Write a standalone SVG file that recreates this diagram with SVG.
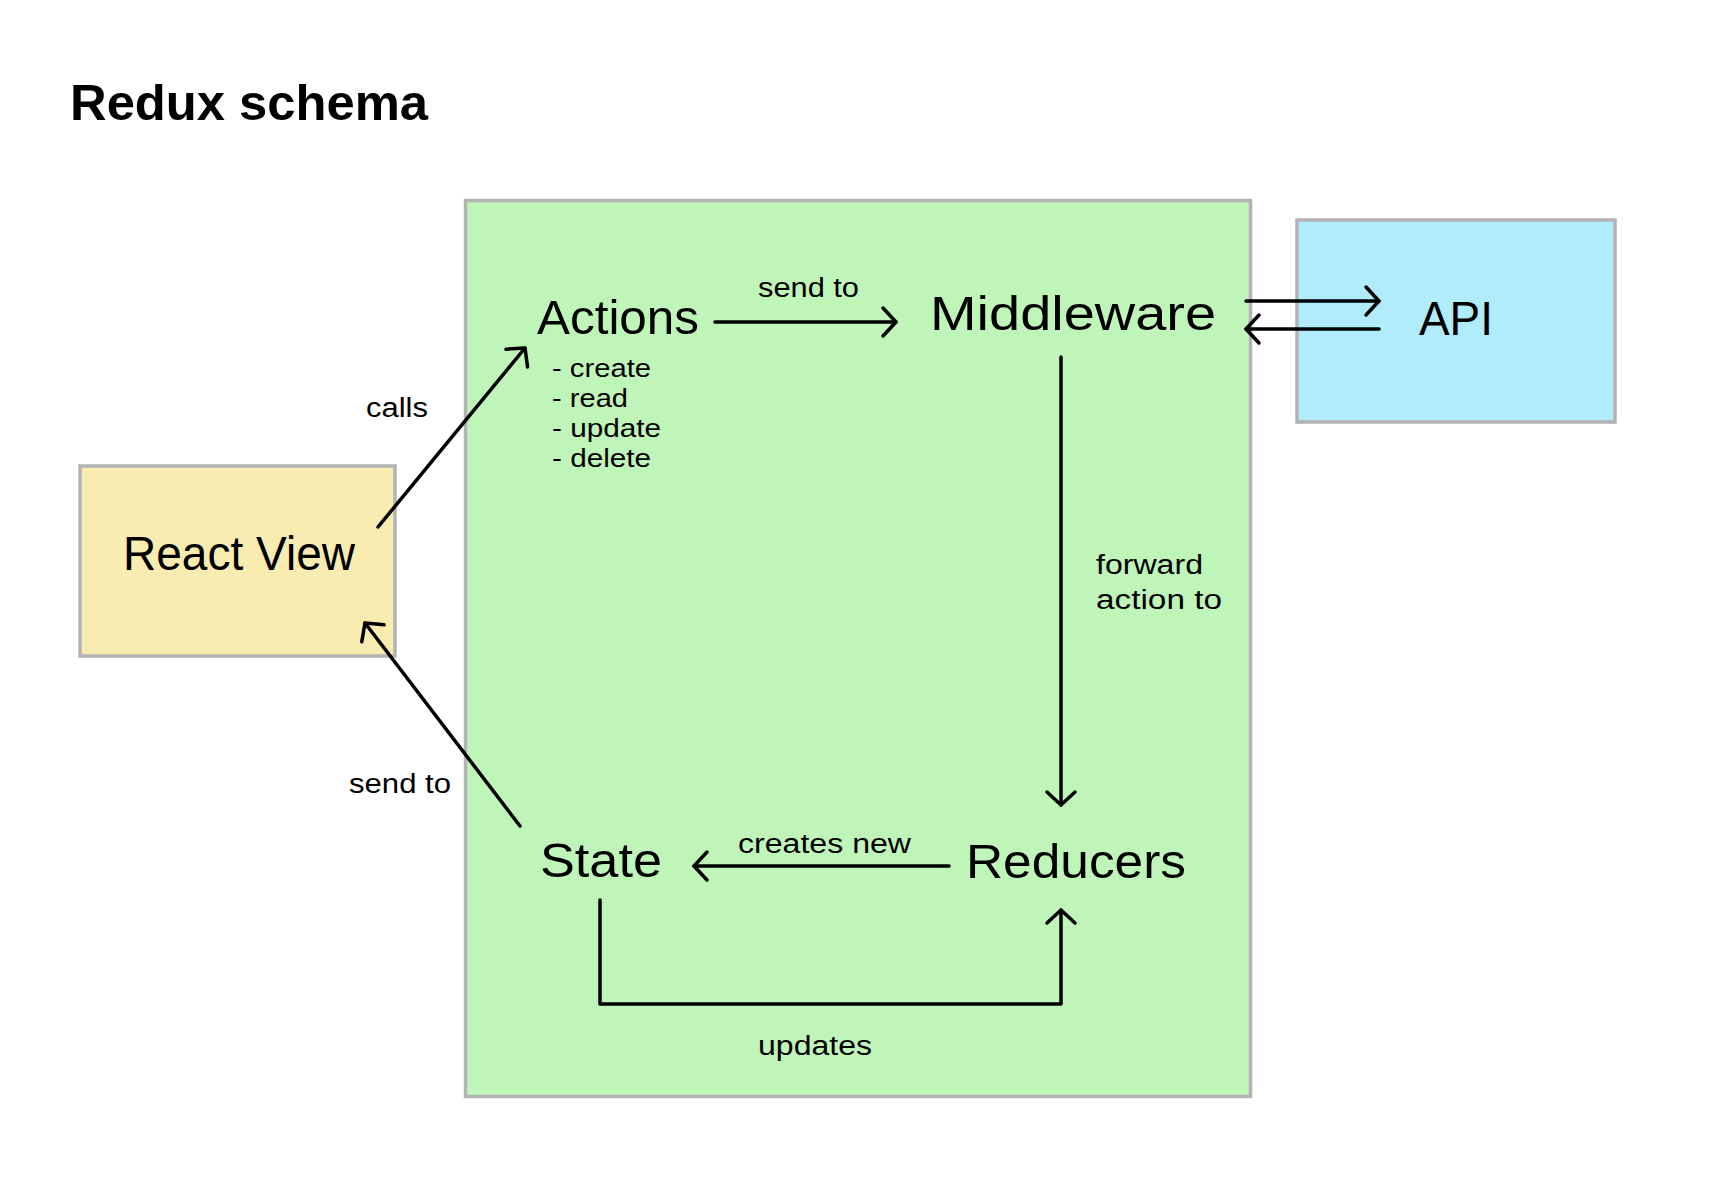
<svg xmlns="http://www.w3.org/2000/svg" width="1713" height="1181" viewBox="0 0 1713 1181">
<style>
text{font-family:"Liberation Sans",Arial,sans-serif;fill:#000}
.big{font-size:48px}
.sm{font-size:27px}
.li{font-size:25px}
.box{stroke:#b3b3b3;stroke-width:3.5}
.ln{fill:none;stroke:#000;stroke-width:3.5;stroke-linecap:round;stroke-linejoin:round}
</style>
<defs>
<marker id="arr" markerUnits="userSpaceOnUse" markerWidth="40" markerHeight="40" viewBox="-20 -20 40 40" refX="0" refY="0" orient="auto" overflow="visible">
<path d="M-13,-14 L0,0 L-13,14" fill="none" stroke="#000" stroke-width="3.5" stroke-linecap="round" stroke-linejoin="round"/>
</marker>
</defs>
<rect width="1713" height="1181" fill="#fff"/>
<text x="70" y="120" font-size="50" font-weight="bold" textLength="358" lengthAdjust="spacingAndGlyphs">Redux schema</text>

<g id="store">
<rect class="box" x="465.5" y="200.5" width="785" height="896" fill="#c0f5b9"/>
</g>
<g id="react-view">
<rect class="box" x="80" y="466" width="315" height="190" fill="#f8ecb0"/>
<text class="big" x="123" y="570" textLength="232" lengthAdjust="spacingAndGlyphs">React View</text>
</g>
<g id="api">
<rect class="box" x="1297" y="220" width="318" height="202" fill="#b0ecfc"/>
<text class="big" x="1419" y="335" textLength="74" lengthAdjust="spacingAndGlyphs">API</text>
</g>
<g id="actions">
<text class="big" x="537" y="334" textLength="162" lengthAdjust="spacingAndGlyphs">Actions</text>
<text class="li" x="552" y="377" textLength="99" lengthAdjust="spacingAndGlyphs">- create</text>
<text class="li" x="552" y="407" textLength="76" lengthAdjust="spacingAndGlyphs">- read</text>
<text class="li" x="552" y="437" textLength="109" lengthAdjust="spacingAndGlyphs">- update</text>
<text class="li" x="552" y="467" textLength="99" lengthAdjust="spacingAndGlyphs">- delete</text>
</g>
<g id="middleware">
<text class="big" x="930" y="330" textLength="286" lengthAdjust="spacingAndGlyphs">Middleware</text>
</g>
<g id="state">
<text class="big" x="540" y="877" textLength="122" lengthAdjust="spacingAndGlyphs">State</text>
</g>
<g id="reducers">
<text class="big" x="966" y="878" textLength="220" lengthAdjust="spacingAndGlyphs">Reducers</text>
</g>

<g id="connectors">
<line class="ln" x1="378" y1="527" x2="525" y2="348" marker-end="url(#arr)"/>
<text class="sm" x="366" y="417" textLength="62" lengthAdjust="spacingAndGlyphs">calls</text>
<line class="ln" x1="715" y1="322" x2="896" y2="322" marker-end="url(#arr)"/>
<text class="sm" x="758" y="297" textLength="101" lengthAdjust="spacingAndGlyphs">send to</text>
<line class="ln" x1="1246" y1="301" x2="1379" y2="301" marker-end="url(#arr)"/>
<line class="ln" x1="1379" y1="329" x2="1246" y2="329" marker-end="url(#arr)"/>
<line class="ln" x1="1061" y1="357" x2="1061" y2="805" marker-end="url(#arr)"/>
<text class="sm" x="1096" y="574" textLength="107" lengthAdjust="spacingAndGlyphs">forward</text>
<text class="sm" x="1096" y="609" textLength="126" lengthAdjust="spacingAndGlyphs">action to</text>
<line class="ln" x1="949" y1="866" x2="694" y2="866" marker-end="url(#arr)"/>
<text class="sm" x="738" y="853" textLength="173" lengthAdjust="spacingAndGlyphs">creates new</text>
<line class="ln" x1="520" y1="826" x2="365" y2="623" marker-end="url(#arr)"/>
<text class="sm" x="349" y="793" textLength="102" lengthAdjust="spacingAndGlyphs">send to</text>
<polyline class="ln" points="600,900 600,1004 1061,1004 1061,910" marker-end="url(#arr)"/>
<text class="sm" x="758" y="1055" textLength="114" lengthAdjust="spacingAndGlyphs">updates</text>
</g>
</svg>
